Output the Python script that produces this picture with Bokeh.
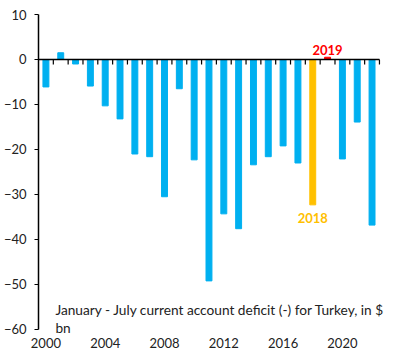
from bokeh.plotting import figure
from bokeh.models import Range1d, FixedTicker, Label, ColumnDataSource
from bokeh.core.properties import value
from bokeh.embed import file_html
from bokeh.resources import INLINE

years = list(range(2000, 2023))
deficit = [-6.1, 1.5, -1.0, -5.9, -10.3, -13.2, -21.0, -21.6, -30.5, -6.5,
           -22.3, -49.2, -34.3, -37.6, -23.4, -21.6, -19.2, -23.0, -32.3, 0.5,
           -22.1, -13.9, -36.8]
x_ticks = [2000, 2004, 2008, 2012, 2016, 2020]
y_ticks = [10, 0, -10, -20, -30, -40, -50, -60]
note = "January - July current account deficit (-) for Turkey, in $\nbn"

BLUE = "#00B0F0"
ORANGE = "#FFC000"
RED = "#FF0000"
TXT = "#222222"
FONT = "Lato"

colors = [ORANGE if y == 2018 else RED if y == 2019 else BLUE for y in years]
src = ColumnDataSource(dict(x=years, top=deficit, color=colors))

x0 = years[0] - 0.5
x1 = years[-1] + 0.5

p = figure(width=387, height=353, output_backend="svg", toolbar_location=None,
           x_range=Range1d(x0, x1 + 0.34),
           y_range=Range1d(-60.89, 10),
           min_border_left=37, min_border_right=3, min_border_top=14, min_border_bottom=20)
p.outline_line_color = None
p.xgrid.visible = False
p.ygrid.visible = False

p.vbar(x="x", top="top", bottom=0, width=0.4, color="color", source=src)

# zero line with category boundary ticks
p.segment(x0=[x0], x1=[x1], y0=[0], y1=[0], line_color="black", line_width=1.5)
bounds = [y + 0.5 for y in years]
p.segment(x0=bounds, x1=bounds, y0=[0] * len(bounds), y1=[-1.1] * len(bounds),
          line_color="black", line_width=1.2)

# axes
xa = p.xaxis[0]
xa.ticker = FixedTicker(ticks=x_ticks)
xa.axis_line_color = None
xa.major_tick_line_color = None
xa.minor_tick_line_color = None
xa.major_tick_out = 0
xa.major_tick_in = 0
xa.major_label_text_font = FONT
xa.major_label_text_font_size = "13px"
xa.major_label_text_color = TXT
xa.major_label_standoff = 4

ya = p.yaxis[0]
ya.ticker = FixedTicker(ticks=y_ticks)
ya.bounds = (-60, 10)
ya.axis_line_color = "black"
ya.axis_line_width = 1.5
ya.major_tick_line_color = "black"
ya.major_tick_line_width = 1.2
ya.major_tick_out = 4
ya.major_tick_in = 0
ya.minor_tick_line_color = None
ya.major_label_text_font = FONT
ya.major_label_text_font_size = "13px"
ya.major_label_text_color = TXT
ya.major_label_standoff = 8

# year labels
i18 = years.index(2018)
i19 = years.index(2019)
p.text(x=[years[i19]], y=[deficit[i19]], text=["2019"], text_color=RED,
       text_font=value(FONT), text_font_size="13px", text_font_style="bold",
       text_align="center", text_baseline="bottom", y_offset=-2)
p.text(x=[years[i18]], y=[deficit[i18]], text=["2018"], text_color=ORANGE,
       text_font=value(FONT), text_font_size="13px", text_font_style="bold",
       text_align="center", text_baseline="top", y_offset=8)

p.add_layout(Label(x=2000.64, y=-53.6, text=note, text_font=FONT, text_font_size="13.7px",
                   text_color=TXT, text_baseline="top", text_line_height=1.08))

open("out.html", "w").write(file_html(p, INLINE))
